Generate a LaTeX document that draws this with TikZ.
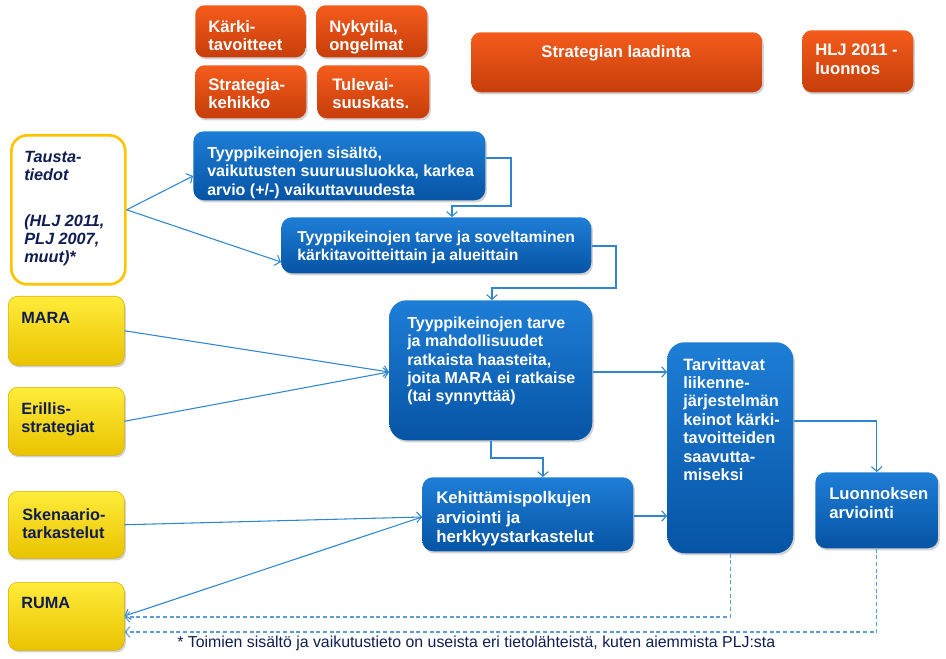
\documentclass[tikz,border=0pt]{standalone}
\usepackage{fontspec}
\setmainfont{Liberation Sans}
\usetikzlibrary{arrows.meta,shadows}
\definecolor{or1}{HTML}{F45C1C}
\definecolor{or2}{HTML}{C73D0A}
\definecolor{bl1}{HTML}{1E7ED6}
\definecolor{bl2}{HTML}{0654A5}
\definecolor{ye1}{HTML}{FFEC3A}
\definecolor{ye2}{HTML}{E9C300}
\definecolor{ye3}{HTML}{D6AE00}
\definecolor{gold}{HTML}{FFC400}
\definecolor{navy}{HTML}{0F1D52}
\definecolor{ln}{HTML}{2F86D0}
\definecolor{lnd}{HTML}{5A9ED8}
\newcommand\bx[6]{\node[#2, anchor=north west, inner sep=0pt, minimum width=#5*0.75pt-#3*0.75pt, minimum height=#6*0.75pt-#4*0.75pt] (#1) at (#3,#4) {};}
\begin{document}
\begin{tikzpicture}[x=0.75pt,y=-0.75pt,
 shad/.style={drop shadow={opacity=0.35,shadow xshift=1.2pt,shadow yshift=-1.6pt}},
 obox/.style={rounded corners=7pt, top color=or1, bottom color=or2, shad},
 bbox/.style={rounded corners=8pt, top color=bl1, bottom color=bl2, shad},
 bigbox/.style={rounded corners=13pt, top color=bl1, bottom color=bl2, shad},
 ybox/.style={rounded corners=7pt, top color=ye1, bottom color=ye2, draw=ye3, line width=0.4pt, shad},
 tbox/.style={rounded corners=12pt, fill=white, draw=gold, line width=2pt},
 wtxt/.style={text=white, font=\bfseries\fontsize{12}{13.6}\selectfont, align=left, inner sep=0pt, anchor=north west},
 otxt/.style={wtxt, font=\bfseries\fontsize{12.5}{13.8}\selectfont},
 ntxt/.style={text=navy, font=\bfseries\fontsize{12.2}{13.6}\selectfont, align=left, inner sep=0pt, anchor=north west},
 conn/.style={draw=ln, line width=0.8pt, -{Straight Barb[length=3.5pt,width=8pt]}},
 dconn/.style={draw=lnd, line width=0.8pt, dash pattern=on 3pt off 2pt, -{Straight Barb[length=3.5pt,width=8pt]}}
]
\useasboundingbox (0,0) rectangle (946,659);
% orange boxes
\bx{k}{obox}{195}{5}{305}{57}
\bx{ny}{obox}{316}{5}{427}{57}
\bx{st}{obox}{195}{65}{306}{118}
\bx{tu}{obox}{317}{65}{429}{118}
\bx{sl}{obox}{471}{32}{762}{92}
\bx{hlj}{obox}{802}{30}{913}{92}
\node[otxt] (kt) at (208,20) {Kärki-\\tavoitteet};
\node[otxt] (nyt) at (329,20) {Nykytila,\\ongelmat};
\node[otxt] (stt) at (208,78) {Strategia-\\kehikko};
\node[otxt] (tut) at (332,78) {Tulevai-\\suuskats.};
\node[otxt, anchor=north] (slt) at (616,45) {Strategian laadinta};
\node[otxt] (hljt) at (815,44) {HLJ 2011 -\\luonnos};
% Tausta
\bx{ta}{tbox}{10}{134}{124}{283}
\node[ntxt, font=\bfseries\itshape\fontsize{12.2}{13.6}\selectfont] (tat) at (24,151) {Tausta-\\tiedot\\[21pt](HLJ 2011,\\PLJ 2007,\\muut)*};
% yellow boxes
\bx{ma}{ybox}{8}{296}{124}{365}
\bx{er}{ybox}{8}{387}{124}{455}
\bx{sk}{ybox}{8}{491}{124}{558}
\bx{ru}{ybox}{8}{582}{124}{650}
\node[ntxt] (mat) at (21,312) {MARA};
\node[ntxt] (ert) at (21,402) {Erillis-\\strategiat};
\node[ntxt] (skt) at (22,508) {Skenaario-\\tarkastelut};
\node[ntxt] (rut) at (21,597) {RUMA};
% blue boxes
\bx{b1}{bbox}{193}{131}{485}{200}
\bx{b2}{bbox}{281}{217}{591}{273}
\bx{b3}{bigbox}{389}{300}{592}{440}
\bx{tv}{bigbox}{667}{342}{793}{553}
\bx{ke}{bbox}{422}{477}{633}{551}
\bx{lu}{bbox}{815}{472}{938}{548}
\node[wtxt] (b1t) at (207,147) {Tyyppikeinojen sisältö,\\vaikutusten suuruusluokka, karkea\\arvio (+/-) vaikuttavuudesta};
\node[wtxt, font=\bfseries\fontsize{11.8}{13.6}\selectfont] (b2t) at (297,231) {Tyyppikeinojen tarve ja soveltaminen\\kärkitavoitteittain ja alueittain};
\node[wtxt] (b3t) at (407,317) {Tyyppikeinojen tarve\\ja mahdollisuudet\\ratkaista haasteita,\\joita MARA ei ratkaise\\(tai synnyttää)};
\node[wtxt, font=\bfseries\fontsize{12.3}{13.8}\selectfont] (tvt) at (683,358) {Tarvittavat\\liikenne-\\järjestelmän\\keinot kärki-\\tavoitteiden\\saavutta-\\miseksi};
\node[wtxt, font=\bfseries\fontsize{12.6}{14.8}\selectfont] (ket) at (436,491) {Kehittämispolkujen\\arviointi ja\\herkkyystarkastelut};
\node[wtxt, font=\bfseries\fontsize{12.5}{14}\selectfont] (lut) at (829,487) {Luonnoksen\\arviointi};
% connectors
\draw[conn] (ta.east) -- (b1.west |- 0,176);
\draw[conn] (ta.east) -- (b2.west |- 0,262);
\draw[conn] (b1.east |- 0,158) -- (511,158) -- (511,206) -- (452,206) -- (b2.north -| 452,0);
\draw[conn] (b2.east |- 0,246) -- (616,246) -- (616,288) -- (492,288) -- (b3.north -| 492,0);
\draw[conn] (ma.east) -- (b3.west |- 0,372);
\draw[conn] (er.east) -- (b3.west |- 0,372);
\draw[conn] (b3.east |- 0,372) -- (tv.west |- 0,372);
\draw[conn] (b3.south -| 491,0) -- (491,458) -- (543,458) -- (ke.north -| 543,0);
\draw[conn] (sk.east) -- (ke.west |- 0,517);
\draw[conn] (ke.west |- 0,517) -- (ru.east |- 0,616);
\draw[conn] (ke.east |- 0,516) -- (tv.west |- 0,516);
\draw[conn] (tv.east |- 0,421) -- (lu.north |- 0,421) -- (lu.north);
\draw[dconn] (tv.south) -- (tv.south |- 0,617) -- (ru.east |- 0,617);
\draw[dconn] (lu.south) -- (lu.south |- 0,632) -- (ru.east |- 0,632);
% footnote
\node[text=navy, font=\fontsize{11.9}{13}\selectfont, anchor=base west, inner sep=0pt] (fn) at (177,647) {* Toimien sisältö ja vaikutustieto on useista eri tietolähteistä, kuten aiemmista PLJ:sta};
\end{tikzpicture}
\end{document}
